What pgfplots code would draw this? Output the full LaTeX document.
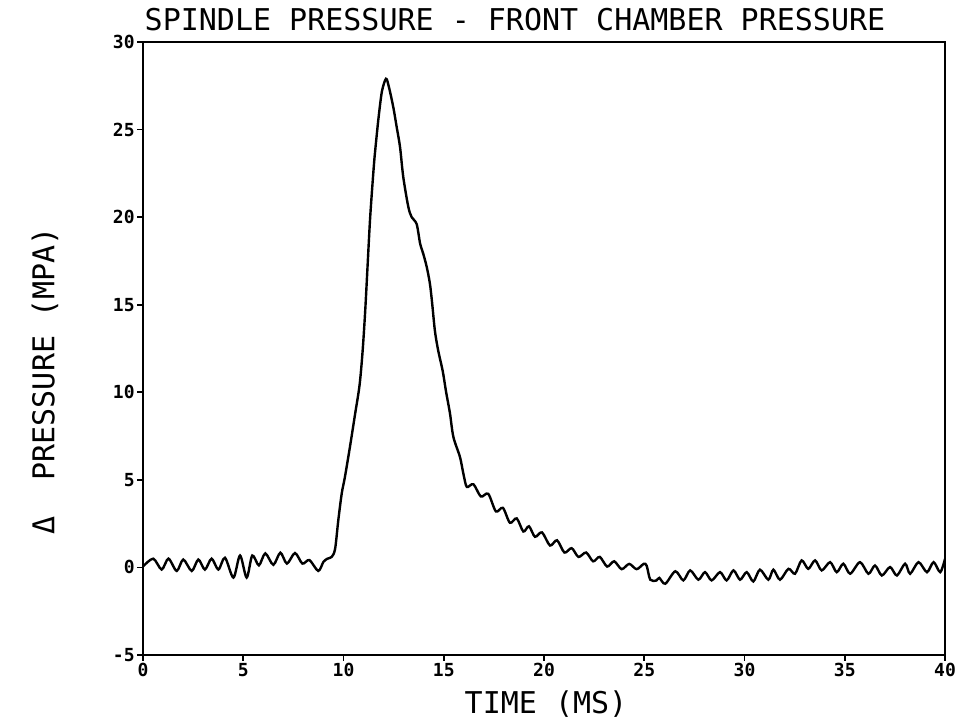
\documentclass[border=0pt]{standalone}
\usepackage{fontspec}
\setmainfont{DejaVu Sans Mono}
\usepackage{pgfplots}
\pgfplotsset{compat=1.18}

% pressure difference (time in ms, pressure in MPa)
\pgfplotstableread{
t v
0.00 0.05
0.51 0.50
0.93 -0.12
1.27 0.50
1.68 -0.20
2.01 0.45
2.43 -0.20
2.76 0.45
3.09 -0.12
3.42 0.50
3.76 -0.12
4.09 0.55
4.51 -0.58
4.84 0.68
5.17 -0.58
5.45 0.68
5.78 0.12
6.10 0.80
6.50 0.15
6.85 0.84
7.18 0.22
7.58 0.82
7.95 0.22
8.30 0.42
8.74 -0.20
9.00 0.32
9.20 0.50
9.41 0.60
9.58 1.05
9.74 2.69
9.91 4.21
10.07 5.16
10.32 6.87
10.57 8.70
10.80 10.40
10.95 12.30
11.08 14.60
11.20 17.20
11.32 19.80
11.44 21.80
11.54 23.30
11.65 24.60
11.76 25.80
11.92 27.20
12.12 27.90
12.26 27.45
12.48 26.30
12.65 25.16
12.82 24.00
12.98 22.30
13.23 20.60
13.40 20.00
13.65 19.60
13.82 18.50
13.98 17.90
14.15 17.16
14.31 16.20
14.42 15.10
14.56 13.50
14.72 12.40
14.95 11.20
15.12 10.00
15.31 8.80
15.48 7.45
15.81 6.30
15.98 5.35
16.15 4.60
16.48 4.75
16.85 4.05
17.22 4.20
17.60 3.20
17.95 3.40
18.30 2.55
18.64 2.80
18.97 2.05
19.25 2.35
19.55 1.75
19.90 2.00
20.30 1.25
20.65 1.55
21.02 0.85
21.38 1.10
21.72 0.60
22.10 0.85
22.45 0.35
22.78 0.60
23.15 0.05
23.50 0.35
23.87 -0.10
24.25 0.20
24.62 -0.10
24.97 0.20
25.12 0.10
25.30 -0.70
25.60 -0.75
25.75 -0.60
26.05 -0.93
26.55 -0.22
26.95 -0.74
27.29 -0.17
27.70 -0.70
28.03 -0.27
28.36 -0.74
28.78 -0.27
29.11 -0.74
29.45 -0.17
29.78 -0.70
30.11 -0.27
30.44 -0.80
30.77 -0.13
31.19 -0.70
31.44 -0.13
31.77 -0.70
32.19 -0.08
32.52 -0.36
32.85 0.40
33.18 -0.08
33.52 0.40
33.85 -0.17
34.27 0.30
34.60 -0.27
34.93 0.21
35.27 -0.36
35.76 0.30
36.18 -0.36
36.51 0.11
36.85 -0.46
37.26 0.02
37.60 -0.46
38.01 0.21
38.26 -0.36
38.68 0.30
39.10 -0.27
39.43 0.30
39.76 -0.27
40.00 0.49
}\dpdata

\begin{document}
\begin{tikzpicture}[x=1pt,y=1pt]
\useasboundingbox (0,0) rectangle (479,363);
\begin{axis}[
    at={(71.5pt,35.5pt)}, anchor=south west,
    scale only axis, width=401pt, height=306.5pt,
    xmin=0, xmax=40, ymin=-5, ymax=30,
    xtick={0,5,...,40}, ytick={-5,0,...,30},
    tick pos=left, tick align=outside,
    major tick length=3pt,
    tick style={line width=0.8pt, black},
    axis line style={line width=0.9pt},
    ticklabel style={font=\fontsize{9}{10}\selectfont\bfseries},
    xticklabel style={inner sep=1pt},
    yticklabel style={inner sep=1pt},
    /pgf/number format/assume math mode=true,
]
\addplot[black, line width=1.2pt, smooth, tension=0.5] table[x=t, y=v] {\dpdata};
\end{axis}
\node[font=\fontsize{15}{16}\selectfont] at (257.5,353) {SPINDLE PRESSURE - FRONT CHAMBER PRESSURE};
\node[font=\fontsize{15}{16}\selectfont] at (273,11) {TIME (MS)};
\node[font=\fontsize{15}{16}\selectfont, rotate=90] at (22.5,172.5) {Δ\ \ PRESSURE (MPA)};
\end{tikzpicture}
\end{document}
